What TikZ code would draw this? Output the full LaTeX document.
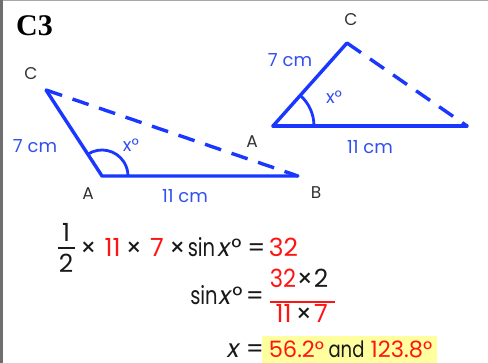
\documentclass[tikz,border=0pt]{standalone}
\usepackage{fontspec}
\usepackage{graphicx}
\usetikzlibrary{calc}
\setmainfont{Poppins}
\newfontfamily\titlefont{Liberation Serif}
\definecolor{penblue}{RGB}{25,55,255}
\definecolor{labblue}{RGB}{50,80,240}
\definecolor{ansred}{RGB}{255,20,20}
\definecolor{hiyellow}{RGB}{255,255,160}
\definecolor{framegray}{RGB}{110,110,110}
\newcommand{\sinword}{\scalebox{0.78}[1]{sin}}
\tikzset{
  side/.style={draw=penblue,line width=3.4pt,line cap=round,line join=round},
  dashside/.style={draw=penblue,line width=3.4pt,dash pattern=on 17pt off 11pt},
  anglearc/.style={draw=penblue,line width=2.8pt},
  lab/.style={font=\fontsize{18}{20}\selectfont,text=labblue,inner sep=0pt},
  vert/.style={font=\fontsize{17}{19}\selectfont,text=black!80,inner sep=0pt},
  pc/.style={font=\fontsize{25}{28}\selectfont,inner sep=0pt,anchor=base,text=black!90},
  rd/.style={pc,text=ansred},
  pcs/.style={pc,font=\fontsize{22.5}{26}\selectfont},
  rds/.style={pcs,text=ansred},
  fracbar/.style={line width=1.3pt},
}
\begin{document}
\begin{tikzpicture}[x=1pt,y=-1pt]
\useasboundingbox (0,0) rectangle (488,363);
\fill[white] (0,0) rectangle (488,363);
% frame
\draw[framegray!60,line width=1.5pt] (0,0.75) -- (488,0.75);
\draw[framegray,line width=2.5pt] (1.5,0) -- (1.5,363);
% title
\node[font=\titlefont\bfseries\fontsize{30}{32}\selectfont,anchor=base west,inner sep=0pt] (title) at (16,36) {C3};
% left triangle
\coordinate (C1) at (46,90);
\coordinate (A1) at (102,176);
\coordinate (B1) at (298,176);
\draw[side] (C1) -- (A1) -- (B1);
\draw[dashside] (C1) -- (B1);
\draw[anglearc] ($(A1)+(237:26)$) arc[start angle=237,end angle=360,radius=26];
\node[vert] (lC1) at (31,74) {C};
\node[vert] (lA1) at (88,194) {A};
\node[vert] (lB1) at (316,193) {B};
\node[lab] (s7L) at (35,146) {7 cm};
\node[lab] (s11L) at (185,196) {11 cm};
\node[lab] (xL) at (131,145) {x°};
% right triangle
\coordinate (A2) at (273,126);
\coordinate (C2) at (347,43);
\coordinate (B2) at (467,126);
\draw[side] (A2) -- (C2);
\draw[side] (A2) -- (B2);
\draw[dashside] (C2) -- (B2);
\draw[anglearc] ($(A2)+(312:41)$) arc[start angle=312,end angle=360,radius=41];
\node[vert] (lC2) at (351,20) {C};
\node[vert] (lA2) at (252,142) {A};
\node[vert] (lB2) at (493,140) {B};
\node[lab] (s7R) at (290,60) {7 cm};
\node[lab] (s11R) at (370,147) {11 cm};
\node[lab] (xR) at (334,97) {x°};
% working, line 1
\node[pc] (n1) at (66,242) {1};
\node[pc] (d1) at (66,273) {2};
\draw[fracbar,black!90] (58,248) -- (75,248);
\node[pc] (t1) at (88.5,257) {×};
\node[rd] (e11) at (112.5,257) {11};
\node[pc] (t2) at (134,257) {×};
\node[rd] (e7) at (157,257) {7};
\node[pc] (t3) at (177.5,257) {×};
\node[pc] (sin1) at (201.5,257) {\sinword};
\node[pc] (x1) at (230,257) {\textit{x}°};
\node[pc] (eq1) at (256.5,257) {=};
\node[rd] (r32) at (283.5,257) {32};
% line 2
\node[pc] (sin2) at (204,305) {\sinword};
\node[pc] (x2) at (231,305) {\textit{x}°};
\node[pc] (eq2) at (255,305) {=};
\draw[fracbar,ansred] (270,302) -- (335,302);
\node[rd] (n32) at (283,288) {\scalebox{0.9}[1]{32}};
\node[pc] (nt) at (305,288) {×};
\node[pc] (n2) at (321,288) {2};
\node[rd] (d11) at (283.5,323) {11};
\node[pc] (dt) at (304,323) {×};
\node[rd] (d7) at (321,323) {7};
% line 3
\fill[hiyellow] (262,336) rectangle (437,363);
\node[pc] (x3) at (234,358) {\textit{x}};
\node[pc] (eq3) at (255,358) {=};
\node[rds] (a1) at (296.5,358) {56.2°};
\node[pcs] (and) at (346.5,358) {\scalebox{0.8}[1]{and}};
\node[rds] (a2) at (401.5,358) {123.8°};
\end{tikzpicture}
\end{document}
